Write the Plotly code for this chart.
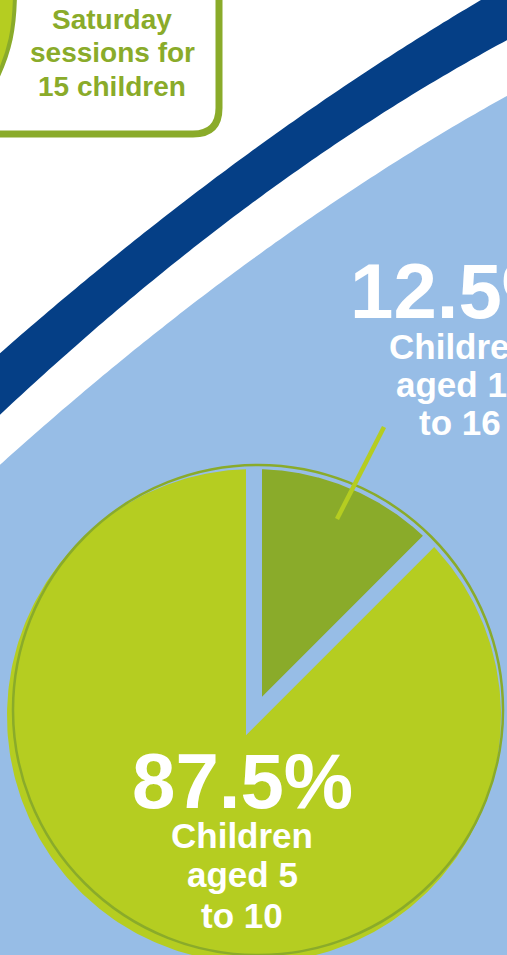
import numpy as np
import plotly.graph_objects as go

# ---------------- data ----------------
shares = [12.5, 87.5]
slice_names = ["Children aged 11 to 16", "Children aged 5 to 10"]
pct_labels = ["12.5%", "87.5%"]
sub_labels = [["Children", "aged 11", "to 16"], ["Children", "aged 5", "to 10"]]
box_lines = ["Saturday", "sessions for", "15 children"]

# ---------------- style ----------------
W, H = 507, 955
LIGHT_BLUE = "#97bde6"
DARK_BLUE = "#053f86"
LIME = "#b5cd21"
OLIVE = "#8aab2a"
FONT = "Liberation Sans, Arial, sans-serif"
slice_colors = [OLIVE, LIME]

# pie geometry (pixels)
cx, cy, R, GAP = 254, 716, 247, 16
ring_cx, ring_cy, ring_r = 258, 710, 245

# decorative background curves (pixels), smoothed by a quadratic fit
light_edge = [(0, 465), (40, 430), (80, 395), (120, 360), (230, 275),
              (270, 247), (380, 173), (420, 147), (507, 95)]
band_top = [(0, 355), (40, 318), (80, 284), (120, 250), (230, 168),
            (270, 139), (380, 63), (420, 37), (480, 0)]
band_bot = [(0, 415), (40, 378), (80, 342), (120, 307), (230, 220),
            (270, 190), (380, 115), (420, 90), (507, 40)]


def curve(pts, reverse=False):
    p = np.array(pts, dtype=float)
    coef = np.polyfit(p[:, 0], p[:, 1], 2)
    xs = np.linspace(-15, 525, 120)
    ys = np.polyval(coef, xs)
    if reverse:
        xs, ys = xs[::-1], ys[::-1]
    return " ".join(f"L{x:.1f},{y:.1f}" for x, y in zip(xs, ys))


def wedge(a0, a1):
    h = GAP / 2
    th = a1 - a0
    mid = (a0 + a1) / 2
    d = h / np.sin(th / 2)
    ax, ay = cx + d * np.sin(mid), cy - d * np.cos(mid)
    dl = np.arcsin(h / R)
    t = np.linspace(a0 + dl, a1 - dl, 300)
    xs = np.concatenate([[ax], cx + R * np.sin(t), [ax]])
    ys = np.concatenate([[ay], cy - R * np.cos(t), [ay]])
    return xs, ys


fig = go.Figure()

# pie slices built from the shares
total = sum(shares)
start = 0.0
for name, v, col in zip(slice_names, shares, slice_colors):
    a0 = start
    a1 = start + v / total * 2 * np.pi
    xs, ys = wedge(a0, a1)
    fig.add_trace(go.Scatter(x=xs, y=ys, mode="lines", fill="toself",
                             fillcolor=col, line=dict(width=0, color=col),
                             name=name, hoverinfo="name", showlegend=False))
    start = a1

shapes = []
# light blue region
shapes.append(dict(type="path", layer="below", xref="x", yref="y",
                   path="M-15,970 " + curve(light_edge) + " L525,970 Z",
                   fillcolor=LIGHT_BLUE, line=dict(width=0)))
# dark blue band
top_path = curve(band_top)
shapes.append(dict(type="path", layer="below", xref="x", yref="y",
                   path="M" + top_path[1:] + " " + curve(band_bot, reverse=True) + " Z",
                   fillcolor=DARK_BLUE, line=dict(width=0)))
# box outline
shapes.append(dict(type="path", layer="below", xref="x", yref="y",
                   path="M-20,134 L193,134 Q219,134 219,108 L219,-20",
                   line=dict(color=OLIVE, width=7), fillcolor="rgba(0,0,0,0)"))
# icon edge at top-left
shapes.append(dict(type="path", layer="below", xref="x", yref="y",
                   path="M-20,-10 L15,-10 C15,30 9,52 -2,76 L-20,76 Z",
                   fillcolor=LIME, line=dict(color=OLIVE, width=4)))
# outline ring of pie
shapes.append(dict(type="circle", layer="above", xref="x", yref="y",
                   x0=ring_cx - ring_r, x1=ring_cx + ring_r,
                   y0=ring_cy - ring_r, y1=ring_cy + ring_r,
                   line=dict(color=OLIVE, width=2.5), fillcolor="rgba(0,0,0,0)"))
# leader line
shapes.append(dict(type="line", layer="above", xref="x", yref="y",
                   x0=384, y0=427, x1=337, y1=519,
                   line=dict(color=LIME, width=4.5)))

annotations = []
# box text
for txt, ym in zip(box_lines, [19, 52.5, 86]):
    annotations.append(dict(x=112, y=ym, xref="x", yref="y", text=txt, showarrow=False,
                            xanchor="center", yanchor="middle",
                            font=dict(family=FONT, size=28, color=OLIVE, weight="bold")))

# slice labels
label_pos = [(460, 290.5, [346, 384.5, 422.5]), (242, 780.5, [835.5, 874.5, 915])]
for pct, subs, (lx, py, sy) in zip(pct_labels, sub_labels, label_pos):
    annotations.append(dict(x=lx, y=py, xref="x", yref="y", text=pct, showarrow=False,
                            xanchor="center", yanchor="middle",
                            font=dict(family=FONT, size=78, color="white", weight="bold")))
    for s, yy in zip(subs, sy):
        annotations.append(dict(x=lx, y=yy, xref="x", yref="y", text=s, showarrow=False,
                                xanchor="center", yanchor="middle",
                                font=dict(family=FONT, size=35, color="white", weight="bold")))

fig.update_layout(
    width=W, height=H,
    margin=dict(l=0, r=0, t=0, b=0),
    paper_bgcolor="white", plot_bgcolor="white",
    xaxis=dict(range=[0, W], visible=False, fixedrange=True),
    yaxis=dict(range=[H, 0], visible=False, fixedrange=True),
    shapes=shapes, annotations=annotations, showlegend=False,
)

fig.write_html("out.html")
